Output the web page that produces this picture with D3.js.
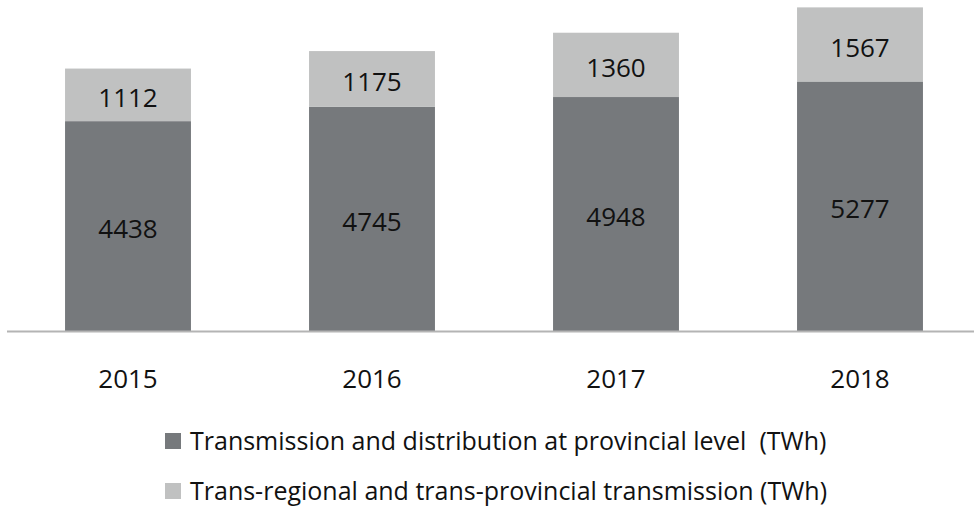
<!DOCTYPE html>
<meta charset="utf-8">
<style>
  body { margin: 0; background: #fff; }
  text { font-family: "Open Sans", sans-serif; fill: #111; }
</style>
<body>
<svg id="chart" width="974" height="507"></svg>
</body>
<script src="https://d3js.org/d3.v7.min.js"></script>
<script>

var years = ["2015", "2016", "2017", "2018"];
var provincial = [4438, 4745, 4948, 5277];
var transRegional = [1112, 1175, 1360, 1567];
var seriesNames = [
  "Transmission and distribution at provincial level  (TWh)",
  "Trans-regional and trans-provincial transmission (TWh)"
];
var colors = ["#76797c", "#c0c1c1"];

var svg = d3.select("#chart"),
    width = +svg.attr("width"),
    baseY = 331;

var data = years.map(function(y, i) {
  return { year: y, provincial: provincial[i], trans: transRegional[i] };
});

var x = d3.scaleBand()
    .domain(years)
    .range([6, 982])
    .paddingInner(0.484)
    .paddingOuter(0.242);

var y = d3.scaleLinear()
    .domain([0, 7000])
    .range([baseY, 0]);

var stack = d3.stack().keys(["provincial", "trans"]);
var series = stack(data);

var g = svg.append("g");

g.selectAll(".serie")
  .data(series)
  .enter().append("g")
  .attr("class", "serie")
  .attr("fill", function(d, i) { return colors[i]; })
  .selectAll("rect")
  .data(function(d) { return d; })
  .enter().append("rect")
  .attr("x", function(d) { return x(d.data.year); })
  .attr("y", function(d) { return y(d[1]); })
  .attr("height", function(d) { return y(d[0]) - y(d[1]); })
  .attr("width", x.bandwidth());

// value labels
series.forEach(function(s) {
  g.selectAll(".lbl-" + s.key)
    .data(s)
    .enter().append("text")
    .attr("x", function(d) { return x(d.data.year) + x.bandwidth() / 2; })
    .attr("y", function(d) { return (y(d[0]) + y(d[1])) / 2 + 3; })
    .attr("dy", "0.35em")
    .attr("text-anchor", "middle")
    .style("font-size", "26px")
    .text(function(d) { return d.data[s.key]; });
});

// x axis
svg.append("line")
  .attr("x1", 7).attr("x2", width)
  .attr("y1", baseY + 0.5).attr("y2", baseY + 0.5)
  .attr("stroke", "#b4b4b4")
  .attr("stroke-width", 2);

svg.selectAll(".year")
  .data(years)
  .enter().append("text")
  .attr("class", "year")
  .attr("x", function(d) { return x(d) + x.bandwidth() / 2; })
  .attr("y", 388)
  .attr("text-anchor", "middle")
  .style("font-size", "26px")
  .text(function(d) { return d; });

// legend
var legend = svg.selectAll(".legend")
  .data(seriesNames)
  .enter().append("g")
  .attr("class", "legend")
  .attr("transform", function(d, i) { return "translate(0," + i * 50 + ")"; });

legend.append("rect")
  .attr("x", 165)
  .attr("y", 433)
  .attr("width", 16)
  .attr("height", 16)
  .attr("fill", function(d, i) { return colors[i]; });

legend.append("text")
  .attr("x", 190)
  .attr("y", 450)
  .style("font-size", "25px")
  .style("white-space", "pre")
  .text(function(d) { return d; });

</script>
